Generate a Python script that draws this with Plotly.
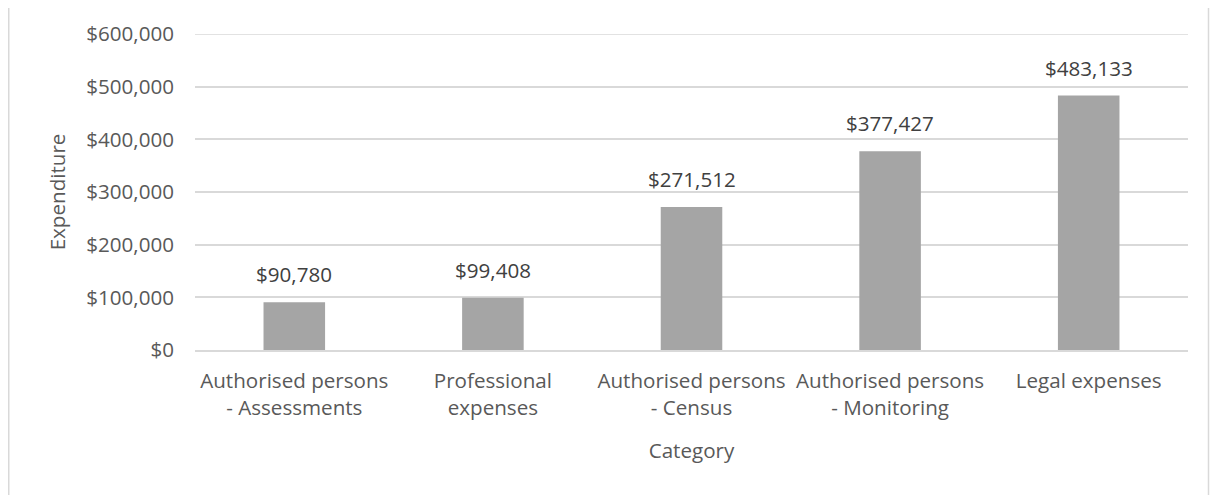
import plotly.graph_objects as go

categories = [
    "Authorised persons<br>- Assessments",
    "Professional<br>expenses",
    "Authorised persons<br>- Census",
    "Authorised persons<br>- Monitoring",
    "Legal expenses",
]
expenditure = [90780, 99408, 271512, 377427, 483133]
y_ticks = [0, 100000, 200000, 300000, 400000, 500000, 600000]

FONT = "Open Sans, Noto Sans, sans-serif"
FS = 20.6
# the page body adds an 8px offset, so the figure is sized to the visible area
W, H = 1210, 487
L, R, T, B = 187, 30, 26, 145

fig = go.Figure(
    go.Bar(
        x=categories,
        y=expenditure,
        marker=dict(color="#A5A5A5", line=dict(width=0)),
        width=0.31,
        hoverinfo="x+y",
    )
)

# value labels above the bars
for cat, val in zip(categories, expenditure):
    fig.add_annotation(
        x=cat, y=val, text=f"${val:,}", showarrow=False,
        yanchor="bottom", yshift=12,
        font=dict(family=FONT, size=FS, color="#404040"),
    )

# plotly drops the gridline sitting on the top edge, so draw it explicitly
fig.add_shape(
    type="line", xref="paper", yref="y",
    x0=0, x1=1, y0=y_ticks[-1], y1=y_ticks[-1],
    line=dict(color="#D9D9D9", width=1.5), layer="below",
)

# outer chart border (light grey frame)
pw, ph = W - L - R, H - T - B
fig.add_shape(
    type="rect", xref="paper", yref="paper",
    x0=(0.75 - L) / pw, x1=(1200.5 - L) / pw,
    y0=-(H + 10 - T - ph) / ph, y1=(H - T - 0.75) / ph,
    line=dict(color="#D9D9D9", width=1.5), fillcolor="rgba(0,0,0,0)",
    layer="below",
)

fig.update_layout(
    width=W, height=H,
    margin=dict(l=L, r=R, t=T, b=B),
    paper_bgcolor="white", plot_bgcolor="white",
    font=dict(family=FONT, size=FS, color="#595959"),
    showlegend=False,
)
fig.update_xaxes(
    title=dict(text="Category", font=dict(size=FS, color="#595959"), standoff=23),
    tickfont=dict(size=FS, color="#595959"),
    showline=True, linecolor="#D9D9D9", linewidth=1.5,
    ticks="", showgrid=False, automargin=False, ticklabelstandoff=12,
)
fig.update_yaxes(
    title=dict(text="Expenditure", font=dict(size=FS, color="#595959"), standoff=15),
    range=[0, 600000], tickvals=y_ticks,
    ticktext=[f"${v:,}" for v in y_ticks],
    tickfont=dict(size=FS, color="#595959"),
    showgrid=True, gridcolor="#D9D9D9", gridwidth=1.5,
    zeroline=False, ticks="", ticklabelstandoff=20, automargin=False,
)

fig.write_html("out.html")
